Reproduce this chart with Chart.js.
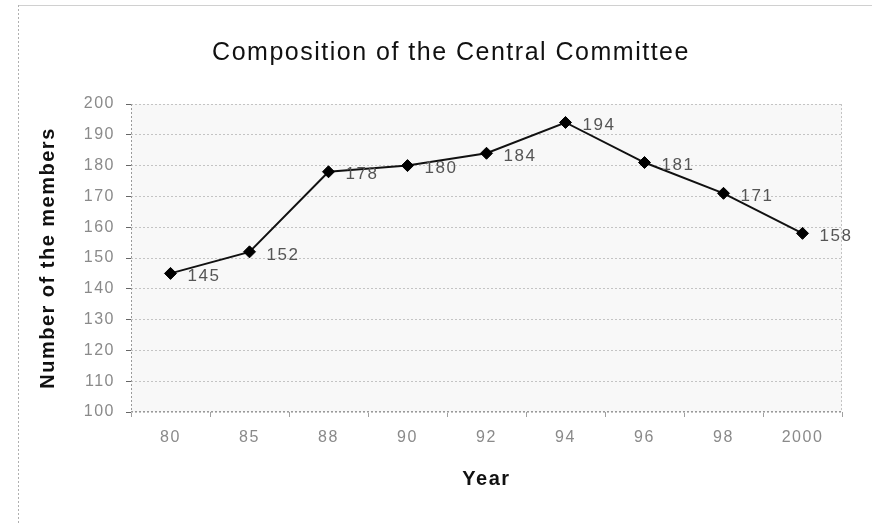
<!DOCTYPE html>
<html>
<head>
<meta charset="utf-8">
<script src="https://cdn.jsdelivr.net/npm/chart.js@4.4.1/dist/chart.umd.min.js"></script>
<style>
  html, body { margin: 0; padding: 0; background: #ffffff; }
  #wrap { width: 872px; height: 525px; position: relative; }
</style>
</head>
<body>
<div id="wrap"><canvas id="chart"></canvas></div>
<script>
// Central Committee membership by congress year
const years = ['80', '85', '88', '90', '92', '94', '96', '98', '2000'];
const members = [145, 152, 178, 180, 184, 194, 181, 171, 158];

// Value axis range
const yMin = 100;
const yMax = 200;
const yStep = 10;

const chartTitle = 'Composition of the Central Committee';
const FONT = '"Liberation Sans", Arial, sans-serif';

// Slightly spaced lettering for all canvas text
const spacing = {
  id: 'spacing',
  beforeUpdate(chart) { chart.ctx.letterSpacing = '1.5px'; },
  beforeDraw(chart) { chart.ctx.letterSpacing = '1.5px'; }
};

// Outer frame, heading, plot background and dotted plot border
const frame = {
  id: 'frame',
  beforeDraw(chart) {
    const ctx = chart.ctx;
    const a = chart.chartArea;
    ctx.save();
    ctx.fillStyle = '#f8f8f8';
    ctx.fillRect(a.left, a.top, a.right - a.left, a.bottom - a.top);

    ctx.strokeStyle = '#d0d0d0';
    ctx.lineWidth = 1;
    ctx.beginPath();
    ctx.moveTo(18, 5.5);
    ctx.lineTo(872, 5.5);
    ctx.stroke();

    ctx.strokeStyle = '#b0b0b0';
    ctx.setLineDash([2, 2]);
    ctx.beginPath();
    ctx.moveTo(18.5, 5);
    ctx.lineTo(18.5, 525);
    ctx.stroke();
    ctx.setLineDash([]);

    ctx.font = '25px ' + FONT;
    ctx.letterSpacing = '1.5px';
    ctx.fillStyle = '#111111';
    ctx.textAlign = 'center';
    ctx.textBaseline = 'middle';
    ctx.fillText(chartTitle, 451, 53);
    ctx.restore();
  },
  beforeDatasetsDraw(chart) {
    const ctx = chart.ctx;
    const a = chart.chartArea;
    ctx.save();
    ctx.lineWidth = 1;
    ctx.setLineDash([2, 2]);
    ctx.strokeStyle = '#c4c4c4';
    ctx.beginPath();
    ctx.moveTo(Math.round(a.right) - 0.5, a.top);
    ctx.lineTo(Math.round(a.right) - 0.5, a.bottom);
    ctx.stroke();
    ctx.strokeStyle = '#9a9a9a';
    ctx.beginPath();
    ctx.moveTo(Math.round(a.left) + 0.5, a.top);
    ctx.lineTo(Math.round(a.left) + 0.5, a.bottom);
    ctx.moveTo(a.left, Math.round(a.bottom) - 0.5);
    ctx.lineTo(a.right, Math.round(a.bottom) - 0.5);
    ctx.stroke();
    ctx.restore();
  }
};

// Value labels to the right of each point
const valueLabels = {
  id: 'valueLabels',
  afterDatasetsDraw(chart) {
    const ctx = chart.ctx;
    const meta = chart.getDatasetMeta(0);
    ctx.save();
    ctx.font = '17px ' + FONT;
    ctx.letterSpacing = '1.5px';
    ctx.fillStyle = '#555555';
    ctx.textAlign = 'left';
    ctx.textBaseline = 'middle';
    meta.data.forEach((pt, i) => {
      ctx.fillText(String(members[i]), pt.x + 17, pt.y + 3);
    });
    ctx.restore();
  }
};

new Chart(document.getElementById('chart'), {
  type: 'line',
  data: {
    labels: years,
    datasets: [{
      data: members,
      borderColor: '#111111',
      borderWidth: 2,
      pointStyle: 'rectRot',
      pointRadius: 6,
      pointBackgroundColor: '#000000',
      pointBorderColor: '#000000',
      pointBorderWidth: 1,
      tension: 0,
      fill: false
    }]
  },
  options: {
    responsive: true,
    maintainAspectRatio: false,
    animation: false,
    events: [],
    layout: { padding: { top: 104, left: 20, right: 30, bottom: 20 } },
    plugins: {
      legend: { display: false },
      tooltip: { enabled: false },
      title: { display: false }
    },
    scales: {
      x: {
        offset: true,
        ticks: {
          color: '#8a8a8a',
          font: { family: FONT, size: 16 },
          padding: 11,
          maxRotation: 0
        },
        grid: {
          offset: true,
          drawOnChartArea: false,
          drawTicks: true,
          tickLength: 5,
          tickColor: '#a0a0a0'
        },
        border: { display: false },
        title: {
          display: true,
          text: 'Year',
          color: '#111111',
          font: { family: FONT, size: 20, weight: 'bold' },
          padding: { top: 0, bottom: 14 }
        },
        afterFit(scale) { scale.height = 93; }
      },
      y: {
        min: yMin,
        max: yMax,
        ticks: {
          stepSize: yStep,
          color: '#8a8a8a',
          font: { family: FONT, size: 16 },
          padding: 11
        },
        grid: {
          color: '#c4c4c4',
          lineWidth: 1,
          drawTicks: true,
          tickLength: 5,
          tickColor: '#666666'
        },
        border: { display: false, dash: [2, 2] },
        title: {
          display: true,
          text: 'Number of the members',
          color: '#111111',
          font: { family: FONT, size: 20, weight: 'bold' },
          padding: { top: 16, bottom: 0 }
        },
        afterFit(scale) { scale.width = 111; }
      }
    }
  },
  plugins: [spacing, frame, valueLabels]
});
</script>
</body>
</html>
